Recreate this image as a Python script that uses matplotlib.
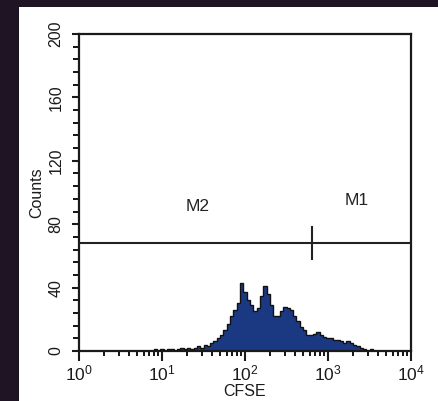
import numpy as np
import matplotlib
matplotlib.use("Agg")
import matplotlib.pyplot as plt
from matplotlib.ticker import MultipleLocator, LogLocator, NullFormatter

plt.rcParams['font.family'] = ['Liberation Sans', 'DejaVu Sans']

# histogram bins: log10 exponent of left edge, bin width in decades
bin_start = 0.90
bin_step = 0.04
counts = [1, 0, 1, 0, 1, 1, 0, 1, 2, 1, 2, 1, 2, 3, 2, 4, 3, 5, 6, 8,
          10, 13, 17, 22, 26, 30, 43, 37, 32, 29, 25, 27, 35, 41, 36, 29, 22, 22, 25, 28,
          27, 26, 22, 19, 15, 13, 10, 10, 11, 12, 10, 9, 8, 8, 7, 7, 6, 5, 6, 5,
          4, 3, 2, 1, 0, 1, 0]

# marker gate
gate_y = 68
gate_split = 645
gate_labels = ["M2", "M1"]
gate_label_x = [26.8, 2240]
gate_label_y = [91, 94.7]

edges = 10 ** (bin_start + bin_step * np.arange(len(counts) + 1))

fig = plt.figure(figsize=(4.38, 4.01), dpi=100)
fig.patch.set_facecolor('#1f1423')

# white panel behind the plot
bg = fig.add_axes([19 / 438, 0, 419 / 438, 394 / 401], zorder=-1)
bg.set_facecolor('white')
bg.set_xticks([])
bg.set_yticks([])
for s in bg.spines.values():
    s.set_visible(False)

ax = fig.add_axes([79 / 438, 50 / 401, 332 / 438, 317 / 401], zorder=1)
ax.set_facecolor('white')

ax.stairs(counts, edges, fill=True, color='#1b3883', zorder=2)
ax.stairs(counts, edges, color='#111111', linewidth=1.0, zorder=3)

ax.axhline(gate_y, color='#222222', linewidth=1.5, zorder=4)
ax.plot([gate_split, gate_split], [gate_y - 10, gate_y + 10.5], color='#222222',
        linewidth=1.5, zorder=4)
for lab, lx, ly in zip(gate_labels, gate_label_x, gate_label_y):
    ax.text(lx, ly, lab, ha='center', va='center', fontsize=12.5, color='#222222')

ax.set_xscale('log')
ax.set_xlim(1, 1e4)
ax.set_ylim(0, 200)

ax.xaxis.set_major_locator(LogLocator(base=10, numticks=10))
ax.xaxis.set_minor_locator(LogLocator(base=10, subs=np.arange(2, 10), numticks=10))
ax.xaxis.set_minor_formatter(NullFormatter())
ax.yaxis.set_major_locator(MultipleLocator(40))
ax.yaxis.set_minor_locator(MultipleLocator(8))

for s in ax.spines.values():
    s.set_linewidth(1.6)
    s.set_color('#1a1a1a')

ax.tick_params(axis='x', which='major', direction='out', length=7, width=1.5,
               labelsize=12.5, pad=2, colors='#1a1a1a')
ax.tick_params(axis='x', which='minor', direction='out', length=3.5, width=1.3)
ax.tick_params(axis='y', which='major', direction='out', length=5, width=1.5,
               labelsize=11.5, pad=6, colors='#1a1a1a')
ax.tick_params(axis='y', which='minor', direction='out', length=4, width=1.3)
for t in ax.get_yticklabels():
    t.set_rotation(90)
    t.set_va('center')

ax.set_ylabel('Counts', fontsize=11.5, labelpad=3, color='#1a1a1a')
ax.set_xlabel('CFSE', fontsize=11.5, labelpad=0.5, color='#1a1a1a')

fig.savefig('out.png', dpi=100, facecolor=fig.get_facecolor())
